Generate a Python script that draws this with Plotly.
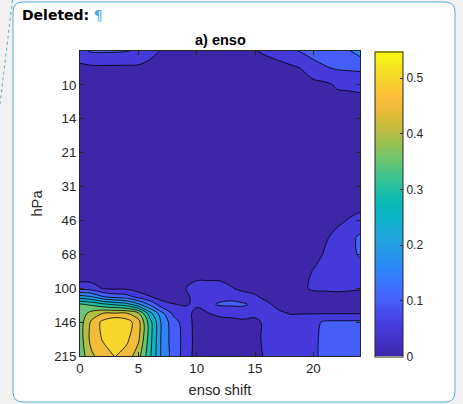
import math
import plotly.graph_objects as go

# ---------------- data ----------------
shift = [0, 1, 2, 3, 4, 5, 6, 7, 8, 9, 10, 11, 12, 13, 14, 15, 16, 17, 18, 19, 20, 21, 22, 23, 24]

pressure = [6.813, 8.254, 10.0, 14.68, 21.54, 31.62, 46.42, 56.23, 68.13, 82.54,
            100.0, 110.0, 120.0, 133.0, 146.8, 177.8, 215.4]

z_p6_8 = [0.090, 0.105, 0.106, 0.105, 0.102, 0.095, 0.070, 0.045, 0.040, 0.035, 0.035, 0.030, 0.030, 0.035, 0.040, 0.048, 0.058, 0.075, 0.090, 0.105, 0.120, 0.130, 0.135, 0.145, 0.170]
z_p8_3 = [0.035, 0.040, 0.040, 0.040, 0.040, 0.040, 0.030, 0.025, 0.020, 0.020, 0.020, 0.020, 0.020, 0.020, 0.020, 0.025, 0.030, 0.030, 0.040, 0.052, 0.080, 0.095, 0.105, 0.108, 0.110]
z_p10 = [0.020, 0.020, 0.020, 0.020, 0.020, 0.020, 0.020, 0.015, 0.015, 0.015, 0.015, 0.015, 0.015, 0.015, 0.015, 0.015, 0.020, 0.020, 0.025, 0.030, 0.035, 0.040, 0.055, 0.058, 0.062]
z_p15 = [0.015, 0.015, 0.015, 0.015, 0.015, 0.012, 0.012, 0.012, 0.010, 0.010, 0.010, 0.010, 0.010, 0.010, 0.010, 0.010, 0.012, 0.012, 0.015, 0.015, 0.015, 0.015, 0.015, 0.012, 0.010]
z_p22 = [0.012, 0.012, 0.012, 0.010, 0.010, 0.010, 0.010, 0.010, 0.008, 0.008, 0.008, 0.008, 0.008, 0.008, 0.008, 0.008, 0.010, 0.010, 0.010, 0.010, 0.010, 0.010, 0.012, 0.012, 0.012]
z_p32 = [0.010, 0.010, 0.010, 0.010, 0.010, 0.010, 0.008, 0.008, 0.008, 0.008, 0.008, 0.008, 0.008, 0.008, 0.008, 0.008, 0.008, 0.010, 0.010, 0.010, 0.012, 0.012, 0.015, 0.020, 0.020]
z_p46 = [0.010, 0.010, 0.010, 0.010, 0.010, 0.008, 0.008, 0.008, 0.008, 0.008, 0.008, 0.008, 0.008, 0.008, 0.008, 0.008, 0.010, 0.010, 0.012, 0.015, 0.020, 0.030, 0.042, 0.052, 0.060]
z_p56 = [0.010, 0.010, 0.010, 0.010, 0.008, 0.008, 0.008, 0.008, 0.008, 0.008, 0.008, 0.008, 0.008, 0.008, 0.008, 0.010, 0.010, 0.012, 0.015, 0.020, 0.030, 0.045, 0.060, 0.080, 0.110]
z_p68 = [0.008, 0.008, 0.008, 0.008, 0.008, 0.008, 0.008, 0.008, 0.008, 0.010, 0.010, 0.010, 0.010, 0.010, 0.010, 0.010, 0.012, 0.012, 0.015, 0.025, 0.035, 0.054, 0.070, 0.085, 0.105]
z_p83 = [0.000, 0.000, 0.000, 0.000, 0.000, 0.002, 0.005, 0.010, 0.010, 0.020, 0.025, 0.025, 0.030, 0.030, 0.025, 0.020, 0.020, 0.020, 0.025, 0.035, 0.052, 0.065, 0.075, 0.075, 0.080]
z_p100 = [0.080, 0.075, 0.045, 0.040, 0.040, 0.025, 0.020, 0.015, 0.020, 0.048, 0.070, 0.070, 0.065, 0.052, 0.040, 0.035, 0.030, 0.025, 0.030, 0.040, 0.058, 0.060, 0.065, 0.060, 0.055]
z_p110 = [0.220, 0.200, 0.150, 0.130, 0.120, 0.080, 0.052, 0.030, 0.025, 0.040, 0.065, 0.075, 0.085, 0.090, 0.065, 0.056, 0.035, 0.030, 0.030, 0.030, 0.030, 0.030, 0.030, 0.030, 0.030]
z_p120 = [0.355, 0.340, 0.310, 0.290, 0.270, 0.210, 0.140, 0.070, 0.052, 0.045, 0.058, 0.090, 0.106, 0.108, 0.108, 0.085, 0.060, 0.035, 0.030, 0.025, 0.025, 0.025, 0.025, 0.025, 0.025]
z_p133 = [0.370, 0.420, 0.452, 0.455, 0.455, 0.410, 0.270, 0.165, 0.090, 0.070, 0.035, 0.048, 0.060, 0.065, 0.070, 0.060, 0.060, 0.060, 0.048, 0.048, 0.048, 0.048, 0.048, 0.048, 0.048]
z_p147 = [0.375, 0.460, 0.515, 0.548, 0.525, 0.470, 0.320, 0.190, 0.120, 0.080, 0.030, 0.030, 0.035, 0.035, 0.040, 0.040, 0.060, 0.065, 0.068, 0.075, 0.085, 0.108, 0.110, 0.110, 0.110]
z_p178 = [0.375, 0.470, 0.505, 0.530, 0.510, 0.460, 0.320, 0.190, 0.125, 0.085, 0.030, 0.025, 0.025, 0.025, 0.030, 0.040, 0.060, 0.065, 0.070, 0.075, 0.085, 0.120, 0.120, 0.120, 0.120]
z_p215 = [0.370, 0.440, 0.480, 0.502, 0.480, 0.420, 0.310, 0.190, 0.130, 0.080, 0.030, 0.020, 0.020, 0.020, 0.025, 0.035, 0.058, 0.060, 0.065, 0.070, 0.090, 0.115, 0.120, 0.120, 0.120]

z_rows = [z_p6_8, z_p8_3, z_p10, z_p15, z_p22, z_p32, z_p46, z_p56, z_p68, z_p83,
          z_p100, z_p110, z_p120, z_p133, z_p147, z_p178, z_p215]

ytick_vals = [10.0, 14.68, 21.54, 31.62, 46.42, 68.13, 100.0, 146.8, 215.4]
ytick_text = ["10", "14", "21", "31", "46", "68", "100", "146", "215"]
xtick_vals = [0, 5, 10, 15, 20]
cbar_ticks = [0, 0.1, 0.2, 0.3, 0.4, 0.5]

level_start, level_end, level_step = 0.05, 0.5, 0.05

# ---------------- colours (parula) ----------------
PARULA = [
    (0.00, (62, 38, 168)), (0.05, (67, 50, 196)), (0.10, (70, 60, 222)),
    (0.15, (71, 80, 239)), (0.20, (68, 102, 253)), (0.25, (56, 121, 253)),
    (0.30, (42, 139, 243)), (0.35, (37, 155, 229)), (0.40, (30, 168, 217)),
    (0.45, (12, 178, 200)), (0.50, (8, 185, 182)), (0.55, (36, 191, 161)),
    (0.60, (72, 196, 135)), (0.65, (115, 197, 108)), (0.70, (157, 193, 80)),
    (0.75, (197, 187, 60)), (0.80, (231, 185, 55)), (0.85, (253, 191, 60)),
    (0.90, (246, 209, 44)), (0.95, (245, 229, 31)), (1.00, (249, 251, 14)),
]


def parula(t):
    t = max(0.0, min(1.0, t))
    for (t0, c0), (t1, c1) in zip(PARULA[:-1], PARULA[1:]):
        if t <= t1:
            f = (t - t0) / (t1 - t0)
            return "rgb(%d,%d,%d)" % tuple(round(a + f * (b - a)) for a, b in zip(c0, c1))
    return "rgb(%d,%d,%d)" % PARULA[-1][1]


zmin = min(min(r) for r in z_rows)
zmax = max(max(r) for r in z_rows)

n_levels = int(round((level_end - level_start) / level_step)) + 1
band_lows = [zmin] + [level_start + k * level_step for k in range(n_levels)]
band_scale = [[k / n_levels, parula((lo - zmin) / (zmax - zmin))] for k, lo in enumerate(band_lows)]
bar_scale = [[s[0], parula(s[0])] for s in PARULA]

# ---------------- figure ----------------
W, H = 463, 404
L, R, T, B = 80, 103, 51, 48
PW, PH = W - L - R, H - T - B


def px(x):
    return (x - L) / PW


def py(y):
    return (H - B - y) / PH


ink = "#262626"
fnt = "Liberation Sans"

fig = go.Figure()
fig.add_trace(go.Contour(
    x=shift, y=pressure, z=z_rows,
    autocontour=False,
    contours=dict(start=level_start, end=level_end, size=level_step, coloring="fill", showlines=True),
    colorscale=band_scale, showscale=False,
    line=dict(color="black", width=0.8),
    hoverinfo="skip",
))
fig.add_trace(go.Scatter(
    x=[shift[0]], y=[pressure[-1]], mode="markers",
    marker=dict(size=1, opacity=0, color=[zmin], cmin=zmin, cmax=zmax, colorscale=bar_scale,
                showscale=True,
                colorbar=dict(x=px(374.5), xanchor="left", xpad=0, ypad=0,
                              y=py(204), yanchor="middle", len=PH, lenmode="pixels",
                              thickness=28, thicknessmode="pixels",
                              outlinewidth=1, outlinecolor=ink,
                              tickvals=cbar_ticks, ticks="inside", ticklen=3, tickcolor=ink,
                              tickfont=dict(family=fnt, size=12, color=ink))),
    hoverinfo="skip", showlegend=False,
))

r = 10
x0, x1, y0, y1 = 13, 455, 2, 402
pts = [("M", x0 + r, y0), ("L", x1 - r, y0), ("Q", x1, y0, x1, y0 + r), ("L", x1, y1 - r),
       ("Q", x1, y1, x1 - r, y1), ("L", x0 + r, y1), ("Q", x0, y1, x0, y1 - r),
       ("L", x0, y0 + r), ("Q", x0, y0, x0 + r, y0)]
path = ""
for p in pts:
    cmd, coords = p[0], p[1:]
    pairs = ["%.5f,%.5f" % (px(coords[i]), py(coords[i + 1])) for i in range(0, len(coords), 2)]
    path += cmd + " " + " ".join(pairs) + " "
path += "Z"

fig.update_layout(
    width=W, height=H,
    margin=dict(l=L, r=R, t=T, b=B, autoexpand=False),
    paper_bgcolor="#F1F1F1", plot_bgcolor="white",
    showlegend=False,
    font=dict(family=fnt, color=ink),
    shapes=[
        dict(type="path", xref="paper", yref="paper", path=path, fillcolor="white",
             line=dict(color="#5AA9E0", width=1), layer="below"),
        dict(type="line", xref="paper", yref="paper", x0=px(12.5), y0=py(0), x1=px(0), y1=py(104),
             line=dict(color="#5AA9E0", width=1, dash="dot"), layer="below"),
    ],
    annotations=[
        dict(text="<b>Deleted:</b> <span style='color:#4DA6E8'>¶</span>", xref="paper", yref="paper",
             x=px(20), y=py(15), xanchor="left", yanchor="middle", showarrow=False,
             font=dict(family="DejaVu Sans", size=14, color="black")),
        dict(text="<b>a) enso</b>", xref="paper", yref="paper", x=0.5, y=py(39.5),
             xanchor="center", yanchor="middle", showarrow=False,
             font=dict(family=fnt, size=14.5, color="black")),
    ],
    xaxis=dict(range=[shift[0], shift[-1]], tickvals=xtick_vals, ticks="inside", ticklen=4,
               tickcolor=ink, showline=True, linecolor=ink, linewidth=1, mirror="ticks",
               showgrid=False, zeroline=False, tickfont=dict(size=13.3, color=ink),
               automargin=False,
               title=dict(text="enso shift", font=dict(size=14.7, color=ink), standoff=9)),
    yaxis=dict(type="log", range=[math.log10(pressure[-1]), math.log10(pressure[0])],
               tickmode="array", tickvals=ytick_vals, ticktext=ytick_text, ticks="inside", ticklen=4,
               tickcolor=ink, showline=True, linecolor=ink, linewidth=1, mirror="ticks",
               showgrid=False, zeroline=False, tickfont=dict(size=13.3, color=ink),
               automargin=False,
               title=dict(text="hPa", font=dict(size=14.7, color=ink), standoff=8)),
)

fig.write_html("out.html", config={"displayModeBar": False},
               post_script="document.body.style.margin='0px';document.body.style.overflow='hidden';")
